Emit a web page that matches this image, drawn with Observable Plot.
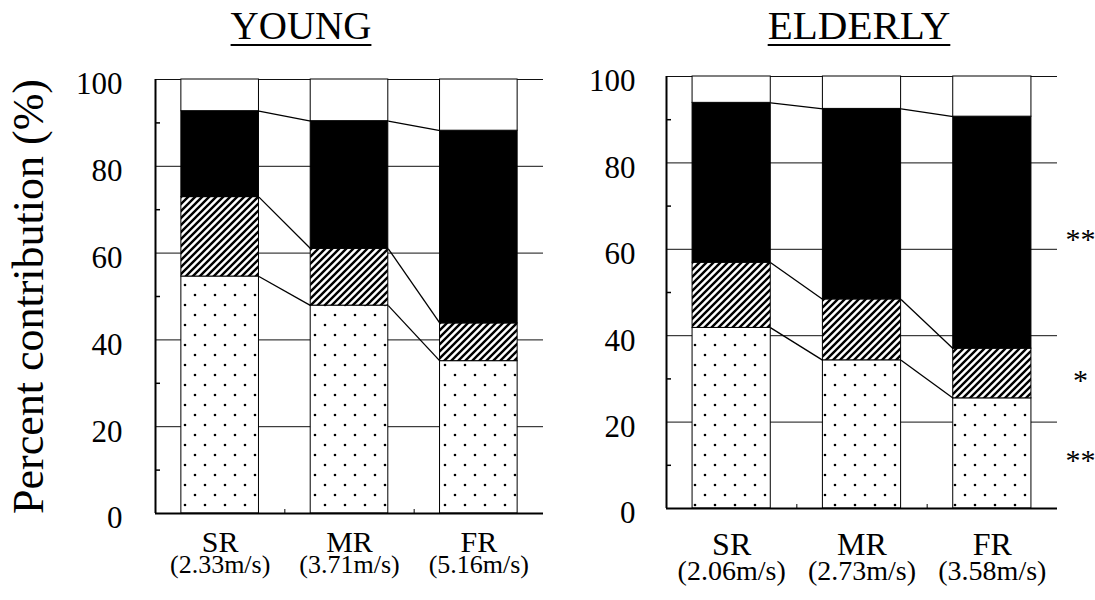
<!DOCTYPE html>
<html>
<head>
<meta charset="utf-8">
<script src="https://cdn.jsdelivr.net/npm/d3@7"></script>
<script src="https://cdn.jsdelivr.net/npm/@observablehq/plot@0.6"></script>
<style>
  body { margin: 0; background: #fff; }
  #wrap { position: relative; width: 1095px; height: 600px; overflow: hidden;
          font-family: "Liberation Serif", "Times New Roman", serif; color: #000; }
  .panel { position: absolute; top: 0; }
  .title { position: absolute; top: 6px; line-height: 39px;
           text-decoration: underline; text-decoration-thickness: 2px; text-underline-offset: 5px;
           transform: translateX(-50%); white-space: nowrap; }
</style>
</head>
<body>
<svg width="0" height="0" style="position:absolute">
  <defs>
    <pattern id="dots" patternUnits="userSpaceOnUse" width="20" height="20">
      <rect width="20" height="20" fill="white"/>
      <circle cx="5" cy="5" r="1.3" fill="black"/>
      <circle cx="15" cy="15" r="1.3" fill="black"/>
    </pattern>
    <pattern id="hatch" patternUnits="userSpaceOnUse" width="7" height="7">
      <rect width="7" height="7" fill="white"/>
      <path d="M-1,1 l2,-2 M0,7 l7,-7 M6,8 l2,-2" stroke="black" stroke-width="2.4"/>
    </pattern>
  </defs>
</svg>
<div id="wrap"></div>
<script>
// ---------- data ----------
const conditions = ["SR", "MR", "FR"];
const youngSpeeds = ["(2.33m/s)", "(3.71m/s)", "(5.16m/s)"];
const elderlySpeeds = ["(2.06m/s)", "(2.73m/s)", "(3.58m/s)"];
// cumulative tops of each stacked segment (%)
const youngDottedTop  = [54.6, 47.9, 35.1];
const youngHatchedTop = [72.9, 61.0, 43.8];
const youngBlackTop   = [92.7, 90.4, 88.2];
const elderlyDottedTop  = [41.8, 34.3, 25.5];
const elderlyHatchedTop = [56.9, 48.4, 37.0];
const elderlyBlackTop   = [93.9, 92.5, 90.7];
// significance markers for the elderly panel (dotted, hatched, black segments)
const elderlySignificance = ["**", "*", "**"];
const yTicks = [0, 20, 40, 60, 80, 100];
const yMinorTicks = [10, 30, 50, 70, 90];
const gridTicks = [20, 40, 60, 80, 100];

const FONT = "Liberation Serif, Times New Roman, serif";

function panel(o) {
  const bars = conditions.map((c, i) => ({i, c, d: o.dotted[i], h: o.hatched[i], b: o.black[i]}));
  const links = [];
  for (let i = 0; i < conditions.length - 1; i++) {
    for (const arr of [o.dotted, o.hatched, o.black]) links.push({i, y1: arr[i], y2: arr[i + 1]});
  }
  const bx1 = d => d.i + 0.2, bx2 = d => d.i + 0.8;
  const marks = [
    Plot.ruleY(gridTicks, {stroke: "#111", strokeWidth: 1}),
    Plot.rect(bars, {x1: bx1, x2: bx2, y1: 0, y2: "d", fill: "url(#dots)", stroke: "black", strokeWidth: 1}),
    Plot.rect(bars, {x1: bx1, x2: bx2, y1: "d", y2: "h", fill: "url(#hatch)", stroke: "black", strokeWidth: 1}),
    Plot.rect(bars, {x1: bx1, x2: bx2, y1: "h", y2: "b", fill: "black", stroke: "black", strokeWidth: 1}),
    Plot.rect(bars, {x1: bx1, x2: bx2, y1: "b", y2: 100, fill: "white", stroke: "black", strokeWidth: 1}),
    Plot.link(links, {x1: d => d.i + 0.8, x2: d => d.i + 1.2, y1: "y1", y2: "y2", stroke: "black", strokeWidth: 1.3}),
    Plot.ruleX([0], {stroke: "black", strokeWidth: 2}),
    Plot.ruleY([0], {stroke: "black", strokeWidth: 2}),
    Plot.axisY({ticks: yTicks, tickSize: 0, tickPadding: o.tickPadding, fontSize: 31, dy: 5, tickFormat: d => d, label: null}),
    Plot.axisY({ticks: yMinorTicks, tickSize: 5, dx: 5, tickFormat: () => "", label: null, strokeWidth: 1.5}),
    Plot.axisX({ticks: [1, 2], tickSize: 4, dy: -4, tickFormat: () => "", label: null}),
    Plot.text(bars, {x: d => d.i + 0.5, frameAnchor: "bottom", lineAnchor: "middle", text: "c", fontSize: o.catSize, dy: o.catDy}),
    Plot.text(bars, {x: d => d.i + 0.5, frameAnchor: "bottom", lineAnchor: "middle", text: d => o.speeds[d.i], fontSize: o.speedSize, dy: o.speedDy})
  ];
  if (o.yTitle) {
    marks.push(Plot.text([o.yTitle], {frameAnchor: "left", textAnchor: "middle", lineAnchor: "middle", text: d => d, rotate: -90, dx: -127, fontSize: 44}));
  }
  if (o.stars) {
    const last = conditions.length - 1;
    const starData = [
      {t: o.stars[0], y: o.dotted[last] / 2},
      {t: o.stars[1], y: (o.dotted[last] + o.hatched[last]) / 2},
      {t: o.stars[2], y: (o.hatched[last] + o.black[last]) / 2}
    ];
    marks.push(Plot.text(starData, {frameAnchor: "right", textAnchor: "middle", lineAnchor: "middle", y: "y", text: "t", dx: 23, dy: 7, fontSize: 30}));
  }
  return Plot.plot({
    width: o.width, height: 600,
    marginLeft: o.marginLeft, marginRight: o.marginRight, marginTop: o.marginTop, marginBottom: o.marginBottom,
    x: {type: "linear", domain: [0, conditions.length], axis: null},
    y: {domain: [0, 100], axis: null},
    style: {fontFamily: FONT, background: "white", color: "black", overflow: "visible"},
    marks
  });
}

const wrap = document.getElementById("wrap");

const young = panel({
  dotted: youngDottedTop, hatched: youngHatchedTop, black: youngBlackTop, speeds: youngSpeeds,
  width: 570, marginLeft: 155, marginRight: 27, marginTop: 79, marginBottom: 87,
  tickPadding: 33, catSize: 30, speedSize: 26, catDy: 29, speedDy: 51,
  yTitle: "Percent contribution (%)"
});
young.classList.add("panel");
young.style.left = "0px";
wrap.appendChild(young);

const elderly = panel({
  dotted: elderlyDottedTop, hatched: elderlyHatchedTop, black: elderlyBlackTop, speeds: elderlySpeeds,
  width: 525, marginLeft: 96, marginRight: 38, marginTop: 76, marginBottom: 92,
  tickPadding: 31, catSize: 32, speedSize: 28, catDy: 36, speedDy: 63,
  stars: elderlySignificance
});
elderly.classList.add("panel");
elderly.style.left = "570px";
wrap.appendChild(elderly);

for (const [text, x, size] of [["YOUNG", 301, 39], ["ELDERLY", 859, 41]]) {
  const t = document.createElement("div");
  t.className = "title";
  t.textContent = text;
  t.style.left = x + "px";
  t.style.fontSize = size + "px";
  wrap.appendChild(t);
}
</script>
</body>
</html>
